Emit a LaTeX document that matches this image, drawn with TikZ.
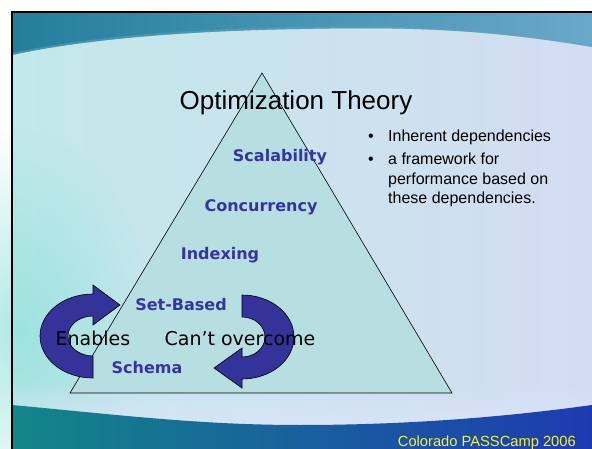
\documentclass[tikz,border=0pt]{standalone}
\usepackage{fontspec}
\setmainfont{Liberation Sans}
\newfontfamily\verd{DejaVu Sans}
\usetikzlibrary{fadings}
\definecolor{bgL}{HTML}{C2E9EA}
\definecolor{bgR}{HTML}{D3DDF2}
\definecolor{turq}{HTML}{8EE0DA}
\definecolor{topL}{HTML}{237F9C}
\definecolor{topM}{HTML}{1A6A8E}
\definecolor{topR}{HTML}{6AA8CA}
\definecolor{botL}{HTML}{138688}
\definecolor{botM}{HTML}{061440}
\definecolor{botR}{HTML}{1E3AB2}
\definecolor{lband}{HTML}{DCE4FA}
\definecolor{trifill}{HTML}{B7DFE1}
\definecolor{arrowblue}{HTML}{333399}
\definecolor{labelblue}{HTML}{3535A2}
\definecolor{footyellow}{HTML}{F4F436}
\tikzfading[name=radfade, inner color=transparent!0, outer color=transparent!100]
\begin{document}
\begin{tikzpicture}[x=1pt,y=-1pt,
  lbl/.style={font=\verd\bfseries\fontsize{16}{19}\selectfont, text=labelblue, inner sep=0, anchor=base},
  bigtxt/.style={font=\verd\fontsize{19}{22}\selectfont, text=black, inner sep=0, anchor=base},
  bullettxt/.style={font=\fontsize{16}{19.5}\selectfont, inner sep=0, anchor=base west, align=left},
  cyc/.style={fill=arrowblue, draw=black, line width=0.6pt}]
\useasboundingbox (0,0) rectangle (592,449);
\fill[white] (0,0) rectangle (592,449);
% slide background
\shade[left color=bgL, right color=bgR] (12,12) rectangle (592,449);
\fill[turq, path fading=radfade, opacity=0.7] (20,330) ellipse [x radius=130, y radius=200];
% top band
\shade[left color=topL, middle color=topM, right color=topR]
  (12,12) -- (592,12) -- (592,47) .. controls (480,28) and (400,27) .. (300,29)
  .. controls (180,31) and (80,40) .. (12,55) -- cycle;
\draw[topL!70!white, line width=2pt, opacity=0.5]
  (592,46) .. controls (480,27) and (400,26) .. (300,28) .. controls (180,30) and (80,39) .. (12,54);
% bottom band
\fill[lband, path fading=north, opacity=0.8] (12,380) rectangle (592,430);
\shade[left color=botL, middle color=botM, right color=botR]
  (12,405) .. controls (120,415) and (200,425) .. (300,425)
  .. controls (420,425) and (520,415) .. (592,405) -- (592,449) -- (12,449) -- cycle;
% border
\draw[black, line width=2pt] (12,449) -- (12,12) -- (592,12);
% triangle
\coordinate (apex) at (262,73);
\coordinate (bl) at (70,393);
\coordinate (br) at (452,393);
\draw[fill=trifill, line width=0.6pt] (apex) -- (br) -- (bl) -- cycle;
% left cycle arrow (Enables)
\path[cyc] (93,378) arc[start angle=90, end angle=270, x radius=53, y radius=42]
  -- (93,285) -- (120,305) -- (93,325) -- (93,316)
  arc[start angle=270, end angle=90, x radius=25, y radius=20] -- cycle;
% right cycle arrow (Can't overcome)
\path[cyc] (242,295) arc[start angle=270, end angle=450, x radius=52, y radius=42]
  -- (242,388) -- (214,368) -- (242,348) -- (242,357)
  arc[start angle=450, end angle=270, x radius=23, y radius=20] -- cycle;
% title
\node[font=\fontsize{26}{30}\selectfont, inner sep=0, anchor=base] (title) at (296,110) {Optimization Theory};
% layer labels
\node[lbl] (scal) at (280,162) {Scalability};
\node[lbl] (conc) at (261,212) {Concurrency};
\node[lbl] (idx) at (220,260) {Indexing};
\node[lbl] (setb) at (181,310) {Set-Based};
\node[lbl] (schema) at (147,373) {Schema};
\node[bigtxt] (enab) at (93,345) {Enables};
\node[bigtxt] (cant) at (240,345) {Can’t overcome};
% bullets
\node[bullettxt] (b1dot) at (368,142) {•};
\node[bullettxt] (b1) at (388,142) {Inherent dependencies};
\node[bullettxt] (b2dot) at (368,165) {•};
\node[bullettxt] (b2) at (388,204) {a framework for\\performance based on\\these dependencies.};
% footer
\node[font=\fontsize{14.7}{17}\selectfont, text=footyellow, inner sep=0, anchor=base east] (foot) at (576,446) {Colorado PASSCamp 2006};
\end{tikzpicture}
\end{document}
